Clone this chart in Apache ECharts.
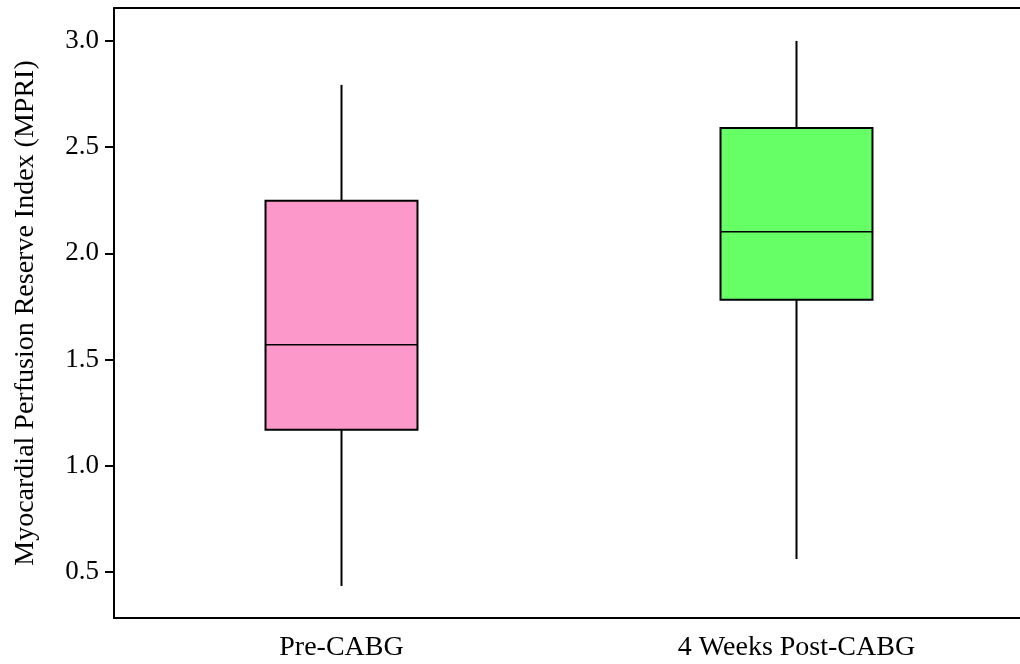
<!DOCTYPE html>
<html><head><meta charset="utf-8">
<script src="https://cdn.jsdelivr.net/npm/echarts@6/dist/echarts.min.js"></script>
<style>html,body{margin:0;padding:0;background:#fff}#c{width:1020px;height:664px}</style>
</head><body><div id="c"></div>
<script>
const categories = ['Pre-CABG', '4 Weeks Post-CABG'];
const whiskerLow = [0.434, 0.561];
const q1 = [1.169, 1.781];
const median = [1.569, 2.101];
const q3 = [2.247, 2.590];
const whiskerHigh = [2.793, 3.0];
const boxColors = ['#FD99CA', '#66FF66'];
const yTicks = [0.5, 1.0, 1.5, 2.0, 2.5, 3.0];

const data = categories.map((c, i) => [i, whiskerLow[i], q1[i], median[i], q3[i], whiskerHigh[i]]);
const font = '"Liberation Serif", "Times New Roman", serif';

const chart = echarts.init(document.getElementById('c'));
chart.setOption({
  animation: false,
  grid: { left: 114, top: 8, width: 910, height: 610, outerBoundsMode: 'none', containLabel: false, show: false },
  xAxis: [{
    type: 'category', data: categories, boundaryGap: true, position: 'bottom',
    axisLine: { lineStyle: { color: '#000', width: 2 } },
    axisTick: { alignWithLabel: true, length: 8, lineStyle: { color: '#000', width: 2 } },
    axisLabel: { color: '#000', fontFamily: font, fontSize: 28, margin: 16 },
    splitLine: { show: false }
  }, {
    type: 'category', data: categories, boundaryGap: true, position: 'top',
    axisLine: { show: true, lineStyle: { color: '#000', width: 2 } },
    axisTick: { show: false }, axisLabel: { show: false }, splitLine: { show: false }
  }],
  yAxis: {
    type: 'value', min: 0.283, max: 3.155,
    name: 'Myocardial Perfusion Reserve Index (MPRI)', nameLocation: 'middle', nameGap: 74,
    nameTextStyle: { color: '#000', fontFamily: font, fontSize: 28 },
    axisLine: { show: true, lineStyle: { color: '#000', width: 2 } },
    axisTick: { show: true, length: 9, lineStyle: { color: '#000', width: 2 }, customValues: yTicks },
    axisLabel: { color: '#000', fontFamily: font, fontSize: 27, margin: 15, customValues: yTicks, formatter: v => v.toFixed(1) },
    splitLine: { show: false }
  },
  series: [{
    type: 'custom',
    data: data,
    renderItem: function (params, api) {
      const i = api.value(0);
      const band = api.size([1, 0])[0];
      const w = band * 0.334;
      const lo = api.coord([i, api.value(1)]);
      const a = api.coord([i, api.value(2)]);
      const m = api.coord([i, api.value(3)]);
      const b = api.coord([i, api.value(4)]);
      const hi = api.coord([i, api.value(5)]);
      const x = lo[0];
      const ls = { stroke: '#000', lineWidth: 2 };
      return {
        type: 'group',
        children: [
          { type: 'line', shape: { x1: x, y1: lo[1], x2: x, y2: a[1] }, style: ls },
          { type: 'line', shape: { x1: x, y1: b[1], x2: x, y2: hi[1] }, style: ls },
          { type: 'rect', shape: { x: x - w / 2, y: b[1], width: w, height: a[1] - b[1] }, style: { fill: boxColors[i], stroke: '#000', lineWidth: 2 } },
          { type: 'line', shape: { x1: x - w / 2, y1: m[1], x2: x + w / 2, y2: m[1] }, style: { stroke: '#000', lineWidth: 1.5 } }
        ]
      };
    }
  }]
});
</script></body></html>
